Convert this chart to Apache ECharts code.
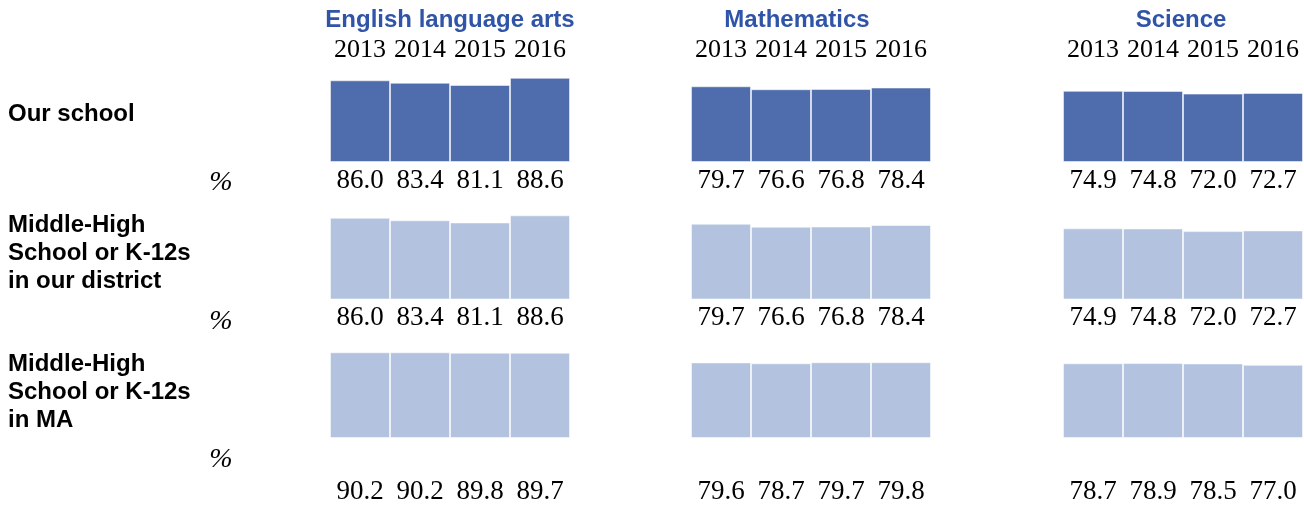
<!DOCTYPE html>
<html>
<head>
<meta charset="utf-8">
<script src="https://cdn.jsdelivr.net/npm/echarts@6/dist/echarts.min.js"></script>
<style>
  html, body { margin: 0; padding: 0; background: #fff; }
  #chart { width: 1304px; height: 510px; }
</style>
</head>
<body>
<div id="chart"></div>
<script>
// ---- data ----
var years = ['2013', '2014', '2015', '2016'];
var subjects = ['English language arts', 'Mathematics', 'Science'];
var groups = ['Our school', 'Middle-High\nSchool or K-12s\nin our district', 'Middle-High\nSchool or K-12s\nin MA'];

var schoolELA = [86.0, 83.4, 81.1, 88.6];
var schoolMath = [79.7, 76.6, 76.8, 78.4];
var schoolSci = [74.9, 74.8, 72.0, 72.7];

var districtELA = [86.0, 83.4, 81.1, 88.6];
var districtMath = [79.7, 76.6, 76.8, 78.4];
var districtSci = [74.9, 74.8, 72.0, 72.7];

var stateELA = [90.2, 90.2, 89.8, 89.7];
var stateMath = [79.6, 78.7, 79.7, 79.8];
var stateSci = [78.7, 78.9, 78.5, 77.0];

var rowsData = [
  [schoolELA, schoolMath, schoolSci],
  [districtELA, districtMath, districtSci],
  [stateELA, stateMath, stateSci]
];

// ---- layout ----
var colLeft = [330, 691, 1063];
var colWidth = 240;
var rowBottom = [162, 299.5, 438];
var gridHeight = 95;
var rowColors = ['#4F6DAC', '#B3C3DF', '#B3C3DF'];
var labelDistance = [5, 5, 40];
var titleX = [450, 797, 1181];
var groupY = [114, 253, 392];
var pctY = [183, 322, 460];

var serif = '"Liberation Serif", "DejaVu Serif", serif';
var sans = '"Liberation Sans", Arial, sans-serif';

var grids = [], xAxes = [], yAxes = [], series = [];
var idx = 0;
for (var r = 0; r < 3; r++) {
  for (var c = 0; c < 3; c++) {
    grids.push({
      left: colLeft[c],
      width: colWidth,
      top: rowBottom[r] - gridHeight,
      height: gridHeight,
      containLabel: false
    });
    xAxes.push({
      type: 'category',
      gridIndex: idx,
      data: years,
      position: 'top',
      axisLine: { show: false },
      axisTick: { show: false },
      splitLine: { show: false },
      axisLabel: {
        show: r === 0,
        interval: 0,
        hideOverlap: false,
        margin: 4,
        fontFamily: serif,
        fontSize: 26,
        color: '#000'
      }
    });
    yAxes.push({
      type: 'value',
      gridIndex: idx,
      min: 0,
      max: 100,
      show: false,
      splitLine: { show: false }
    });
    series.push({
      type: 'bar',
      xAxisIndex: idx,
      yAxisIndex: idx,
      data: rowsData[r][c],
      barCategoryGap: '0%',
      silent: true,
      itemStyle: {
        color: rowColors[r],
        borderColor: 'rgba(255,255,255,0.5)',
        borderWidth: 1
      },
      label: {
        show: true,
        position: 'bottom',
        distance: labelDistance[r],
        fontFamily: serif,
        fontSize: 27,
        color: '#000',
        formatter: function (p) { return p.value.toFixed(1); }
      }
    });
    idx++;
  }
}

var graphics = [];
for (var c = 0; c < 3; c++) {
  graphics.push({
    type: 'text',
    x: titleX[c],
    y: 20,
    style: {
      text: subjects[c],
      fontFamily: sans,
      fontWeight: 'bold',
      fontSize: 24,
      fill: '#2F54A8',
      textAlign: 'center',
      textVerticalAlign: 'middle'
    }
  });
}
for (var r = 0; r < 3; r++) {
  graphics.push({
    type: 'text',
    x: 8,
    y: groupY[r],
    style: {
      text: groups[r],
      fontFamily: sans,
      fontWeight: 'bold',
      fontSize: 24,
      lineHeight: 28,
      fill: '#000',
      textAlign: 'left',
      textVerticalAlign: 'middle'
    }
  });
  graphics.push({
    type: 'text',
    x: 221,
    y: pctY[r],
    style: {
      text: '%',
      fontFamily: serif,
      fontStyle: 'italic',
      fontSize: 28,
      fill: '#000',
      textAlign: 'center',
      textVerticalAlign: 'middle'
    }
  });
}

var chart = echarts.init(document.getElementById('chart'), null, { renderer: 'canvas' });
chart.setOption({
  animation: false,
  backgroundColor: '#fff',
  grid: grids,
  xAxis: xAxes,
  yAxis: yAxes,
  series: series,
  graphic: graphics
});
</script>
</body>
</html>
